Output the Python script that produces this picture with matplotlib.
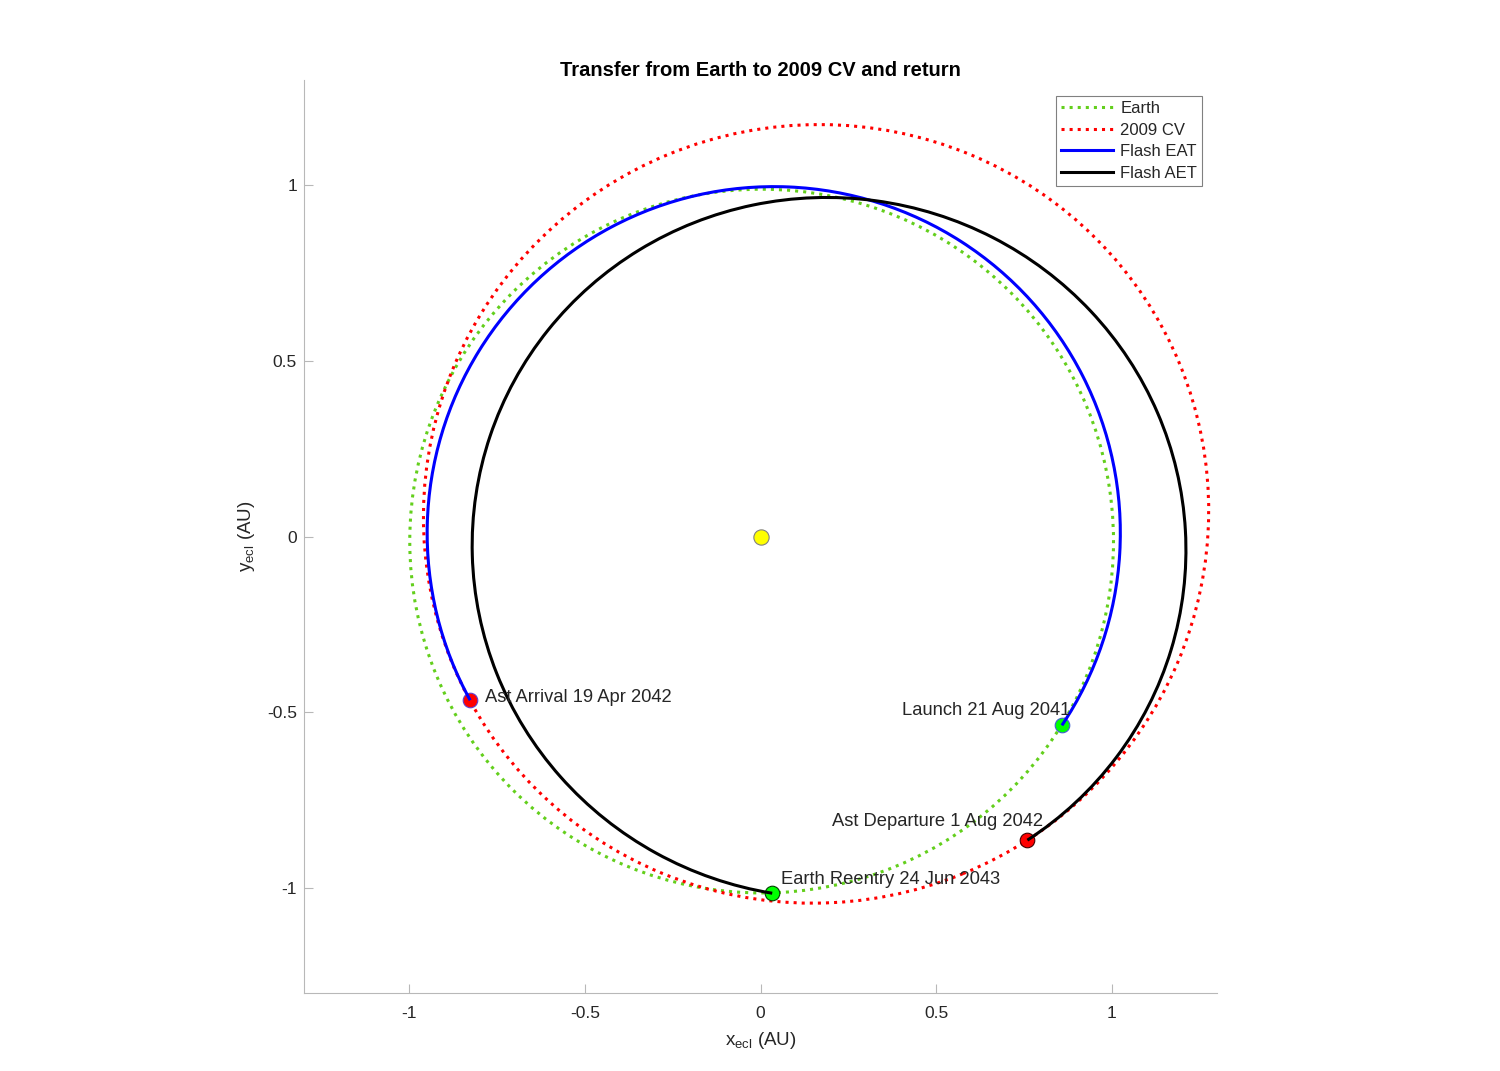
"""Transfer from Earth to 2009 CV and return - plot of the orbits."""
import numpy as np
import matplotlib
matplotlib.use("Agg")
import matplotlib.pyplot as plt
from matplotlib.patches import Ellipse, Arc
from matplotlib.lines import Line2D

plt.rcParams["font.family"] = ["Liberation Sans", "DejaVu Sans"]

# orbit ellipses: centre x, centre y, semi-axis a, semi-axis b, tilt (deg)
earth_orbit = [0.003, -0.013, 1.002, 1.002, 0.0]
cv_orbit = [0.158, 0.0645, 1.120, 1.1067, 22.2]
eat_orbit = [0.0375, 0.010, 0.987, 0.9863, 15.0]
aet_orbit = [0.195, -0.032, 1.0168, 0.997, -9.2]

# events (AU)
event_names = ["Launch 21 Aug 2041", "Ast Arrival 19 Apr 2042",
               "Ast Departure 1 Aug 2042", "Earth Reentry 24 Jun 2043"]
event_x = [0.858, -0.827, 0.760, 0.0333]
event_y = [-0.5376, -0.4664, -0.865, -1.015]
event_colors = ["#00ff00", "#ff0000", "#ff0000", "#00ff00"]
event_edges = ["#4060d0", "#6040d0", "#400000", "#004000"]

# label anchors (AU)
label_x = [0.882, -0.785, 0.805, 0.057]
label_y = [-0.496, -0.459, -0.812, -0.977]
label_ha = ["right", "left", "right", "left"]

sun_x, sun_y = 0.0, 0.0

earth_col = "#63cf1c"
cv_col = "#ff0000"
eat_col = "#0000ff"
aet_col = "#000000"


def arc_angle(px, py, orbit):
    cx, cy, a, b, tilt = orbit
    return np.degrees(np.arctan2(py - cy, px - cx)) - tilt


def full_orbit(ax, orbit, color):
    cx, cy, a, b, tilt = orbit
    ax.add_patch(Ellipse((cx, cy), 2 * a, 2 * b, angle=tilt, fill=False,
                         edgecolor=color, linestyle=":", linewidth=2.2, zorder=1))


def transfer_arc(ax, orbit, i_start, i_end, color):
    cx, cy, a, b, tilt = orbit
    t1 = arc_angle(event_x[i_start], event_y[i_start], orbit)
    t2 = arc_angle(event_x[i_end], event_y[i_end], orbit)
    ax.add_patch(Arc((cx, cy), 2 * a, 2 * b, angle=tilt, theta1=t1, theta2=t2,
                     edgecolor=color, linewidth=2.2, zorder=3))


def main() -> None:
    fig = plt.figure(figsize=(15, 10.71), dpi=100)
    ax = fig.add_axes([0.2027, 0.0728, 0.6087, 0.8525])

    full_orbit(ax, earth_orbit, earth_col)
    full_orbit(ax, cv_orbit, cv_col)
    transfer_arc(ax, eat_orbit, 0, 1, eat_col)
    transfer_arc(ax, aet_orbit, 2, 3, aet_col)

    ax.plot(sun_x, sun_y, "o", ms=11, mfc="#ffff00", mec="#808080", mew=0.8, zorder=2)
    for i in range(len(event_names)):
        ax.plot(event_x[i], event_y[i], "o", ms=10.5, mfc=event_colors[i],
                mec=event_edges[i], mew=0.8, zorder=2)
        ax.text(label_x[i], label_y[i], event_names[i], ha=label_ha[i], va="center",
                fontsize=13.2, color="#262626", zorder=4)

    ax.set_xlim(-1.3, 1.3)
    ax.set_ylim(-1.3, 1.3)
    ax.set_aspect("equal")
    ax.set_xticks([-1, -0.5, 0, 0.5, 1])
    ax.set_xticklabels(["-1", "-0.5", "0", "0.5", "1"])
    ax.set_yticks([-1, -0.5, 0, 0.5, 1])
    ax.set_yticklabels(["-1", "-0.5", "0", "0.5", "1"])
    for s in ["top", "right"]:
        ax.spines[s].set_visible(False)
    for s in ["left", "bottom"]:
        ax.spines[s].set_color("0.72")
        ax.spines[s].set_linewidth(0.8)
    ax.tick_params(direction="in", length=6.5, width=0.8, color="0.72",
                   labelcolor="#262626", labelsize=12.5)
    ax.tick_params(axis="x", pad=9.5)
    ax.tick_params(axis="y", pad=5)

    ax.set_title("Transfer from Earth to 2009 CV and return", fontsize=14.5,
                 fontweight="bold", color="black", pad=3)
    ax.set_xlabel(r"x$_{\mathregular{ecl}}$ (AU)", fontsize=13.5, color="#262626",
                  labelpad=6)
    ax.set_ylabel(r"y$_{\mathregular{ecl}}$ (AU)", fontsize=13.5, color="#262626",
                  labelpad=7)

    handles = [
        Line2D([], [], color=earth_col, linestyle=":", linewidth=2.2, label="Earth"),
        Line2D([], [], color=cv_col, linestyle=":", linewidth=2.2, label="2009 CV"),
        Line2D([], [], color=eat_col, linewidth=2.2, label="Flash EAT"),
        Line2D([], [], color=aet_col, linewidth=2.2, label="Flash AET"),
    ]
    leg = ax.legend(handles=handles, loc="upper right", bbox_to_anchor=(0.9836, 0.9825),
                    borderaxespad=0, fontsize=12, fancybox=False, framealpha=1,
                    edgecolor="0.5", handlelength=3.1, handletextpad=0.45,
                    labelspacing=0.4, borderpad=0.3)
    leg.get_frame().set_linewidth(0.8)
    for t in leg.get_texts():
        t.set_color("#262626")

    fig.savefig("out.png", dpi=100)


if __name__ == "__main__":
    main()
